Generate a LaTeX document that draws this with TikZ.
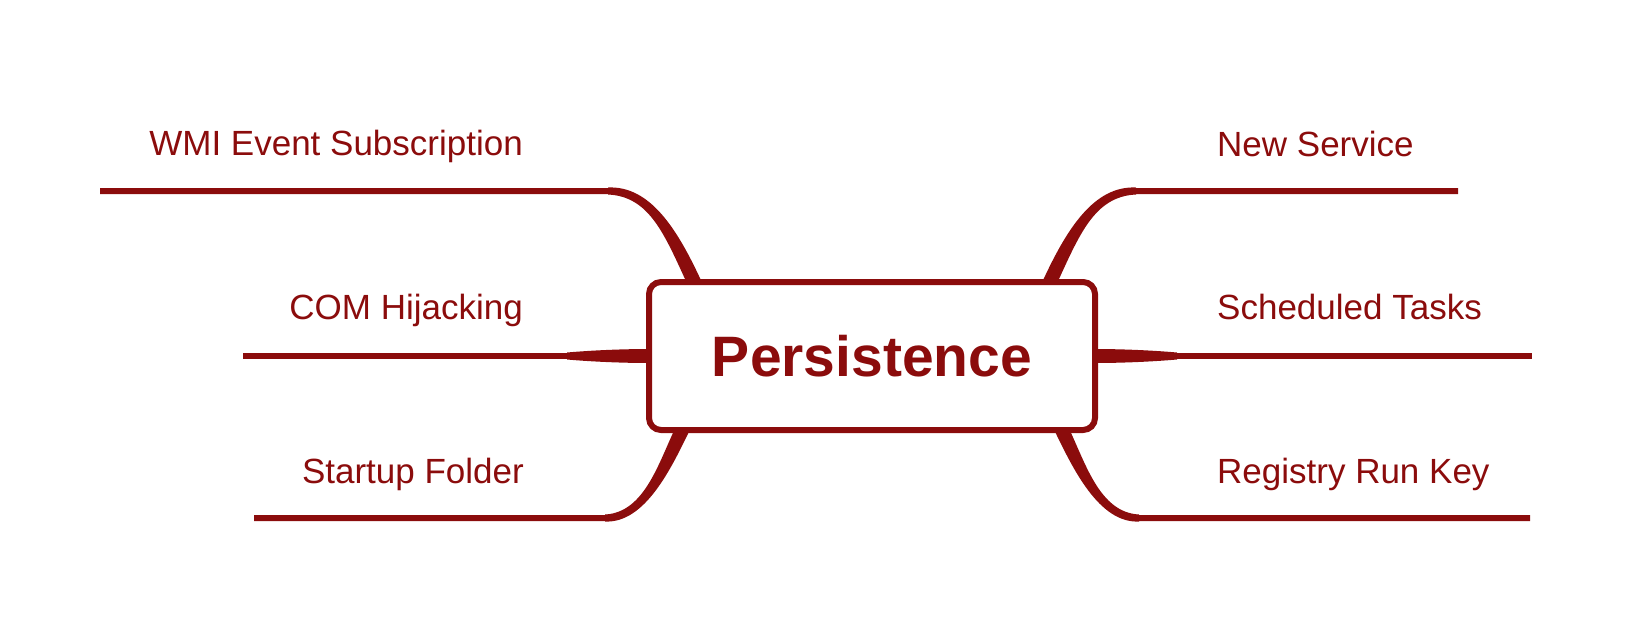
\documentclass[tikz,border=0pt]{standalone}
\usepackage{fontspec}
\setmainfont{Liberation Sans}
\usetikzlibrary{positioning,calc,backgrounds}
\definecolor{mapred}{RGB}{139,12,12}

% branch: root point, two controls, bend point, far end (thick at the root, thin at the bend)
\newcommand{\branch}[5]{%
  \draw[branch] (#1) .. controls (#2) and (#3) .. (#4) -- (#5);
  \fill[mapred] ($(#1)!7pt!90:(#2)$) .. controls ($(#2)!7pt!-90:(#1)$) and ($(#3)!5.5pt!90:(#4)$) .. ($(#4)!3.5pt!-90:(#3)$)
    -- ($(#4)!3.5pt!90:(#3)$) .. controls ($(#3)!5.5pt!-90:(#4)$) and ($(#2)!7pt!90:(#1)$) .. ($(#1)!7pt!-90:(#2)$) -- cycle;}

\begin{document}
\begin{tikzpicture}[x=1pt, y=-1pt,
        root/.style={draw=mapred, line width=6pt, rounded corners=12pt, fill=white, text=mapred,
            minimum width=446pt, minimum height=148pt, font=\fontsize{57}{68}\selectfont\bfseries},
        leaf/.style={text=mapred, inner sep=0pt, font=\fontsize{35}{42}\selectfont},
        branch/.style={draw=mapred, line width=6pt}
    ]
    \useasboundingbox (0,0) rectangle (1632,622);

    \node[root] (root) at (872,356) {Persistence};

    % Left side
    \node[leaf, anchor=base east] (wmi) at (523,155) {WMI Event Subscription};
    \node[leaf, anchor=base east] (com) at (523,319) {COM Hijacking};
    \node[leaf, anchor=base east] (startup) at (524,483) {Startup Folder};
    \coordinate (wmi-root) at ([xshift=-177pt, yshift=-5pt]root.north);
    \coordinate (com-root) at ([xshift=4pt]root.west);
    \coordinate (startup-root) at ([xshift=-189pt, yshift=5pt]root.south);
    \coordinate (wmi-end) at (100,191);
    \coordinate (com-end) at (243,356);
    \coordinate (startup-end) at (254,518);

    % Right side
    \node[leaf, anchor=base west] (service) at (1217,156) {New Service};
    \node[leaf, anchor=base west] (tasks) at (1217,319) {Scheduled Tasks};
    \node[leaf, anchor=base west] (runkey) at (1217,483) {Registry Run Key};
    \coordinate (service-root) at ([xshift=177pt, yshift=-5pt]root.north);
    \coordinate (tasks-root) at ([xshift=-4pt]root.east);
    \coordinate (runkey-root) at ([xshift=189pt, yshift=5pt]root.south);
    \coordinate (service-end) at (1458,191);
    \coordinate (tasks-end) at (1532,356);
    \coordinate (runkey-end) at (1530,518);

    \begin{scope}[on background layer]
        \branch{wmi-root}{671,232}{650,191}{608,191}{wmi-end}
        \branch{com-root}{620,356}{590,356}{567,356}{com-end}
        \branch{startup-root}{665,465}{645,518}{605,518}{startup-end}
        \branch{service-root}{1073,232}{1094,191}{1136,191}{service-end}
        \branch{tasks-root}{1124,356}{1154,356}{1177,356}{tasks-end}
        \branch{runkey-root}{1079,465}{1099,518}{1139,518}{runkey-end}
    \end{scope}
\end{tikzpicture}
\end{document}
